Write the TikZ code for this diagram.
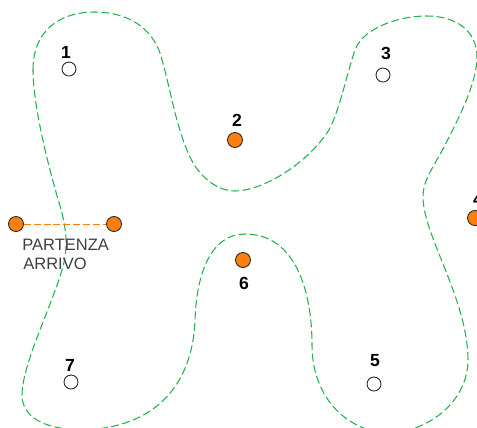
\documentclass[tikz,border=0pt]{standalone}
\usepackage{xcolor}
\usepackage{fontspec}
\setmainfont{Liberation Sans}
\usetikzlibrary{positioning}
\definecolor{dgreen}{HTML}{22B14C}
\definecolor{dorange}{HTML}{FF7F0E}
\tikzset{
  dzone/.style={dgreen, dash pattern=on 4.5pt off 2pt, line width=0.6pt},
  dempty/.style={circle, draw=black!85, fill=white, line width=0.5pt,
                 minimum size=0.28cm, inner sep=0pt},
  dfull/.style={circle, draw=black!85, fill=dorange, line width=0.5pt,
                minimum size=0.3cm, inner sep=0pt},
  dnum/.style={font=\fontsize{10}{12}\selectfont\bfseries, inner sep=0pt},
  dlbl/.style={font=\fontsize{9.4}{11}\selectfont, text=black!75, inner sep=0pt, anchor=west},
  droute/.style={dorange, dash pattern=on 4pt off 1.6pt, line width=0.5pt},
}
\begin{document}
\begin{tikzpicture}[x=0.02cm,y=-0.02cm]
  \useasboundingbox (0,0) rectangle (477,427);
  \clip (0,0) rectangle (477,427);

  % ---- zona ----
  \draw[dzone] (33,70) .. controls (33,30) and (60,12) .. (95,12)
    .. controls (130,12) and (152,30) .. (160,53)
    .. controls (170,85) and (175,125) .. (190,157)
    .. controls (200,178) and (218,191) .. (235,191)
    .. controls (262,191) and (305,165) .. (327,133)
    .. controls (338,117) and (347,73) .. (355,50)
    .. controls (362,30) and (395,16) .. (427,16)
    .. controls (455,16) and (477,30) .. (477,57)
    .. controls (477,85) and (455,125) .. (444,147)
    .. controls (433,168) and (423,180) .. (423,197)
    .. controls (423,235) and (468,300) .. (468,360)
    .. controls (468,400) and (430,432) .. (388,433)
    .. controls (350,432) and (312,400) .. (312,345)
    .. controls (312,290) and (295,234) .. (245,234)
    .. controls (215,234) and (197,265) .. (195,320)
    .. controls (193,375) and (165,426) .. (85,430)
    .. controls (50,430) and (22,420) .. (22,395)
    .. controls (22,365) and (52,305) .. (62,270)
    .. controls (68,250) and (68,231) .. (58,199)
    .. controls (48,165) and (33,105) .. (33,70) -- cycle;

  % ---- punti ----
  \node[dempty] (p1) at (69,69) {};
  \node[dfull] (p2) at (235,140) {};
  \node[dempty] (p3) at (383,75) {};
  \node[dfull] (p4) at (475,218) {};
  \node[dempty] (p5) at (374,384) {};
  \node[dfull] (p6) at (243,260) {};
  \node[dempty] (p7) at (71,382) {};
  \node[dfull] (start) at (16,224) {};
  \node[dfull] (stop) at (114,224) {};

  % ---- numeri ----
  \node[dnum] (n1) at (66,52) {1};
  \node[dnum] (n2) at (237,120) {2};
  \node[dnum] (n3) at (386,53) {3};
  \node[dnum] (n4) at (478,199) {4};
  \node[dnum] (n5) at (375,361) {5};
  \node[dnum] (n6) at (244,283) {6};
  \node[dnum] (n7) at (70,365) {7};

  \draw[droute] (start) -- (stop);

  \node[dlbl] (partenza) at (22,245) {PARTENZA};
  \node[dlbl] (arrivo) at (23,264) {ARRIVO};

\end{tikzpicture}
\end{document}
